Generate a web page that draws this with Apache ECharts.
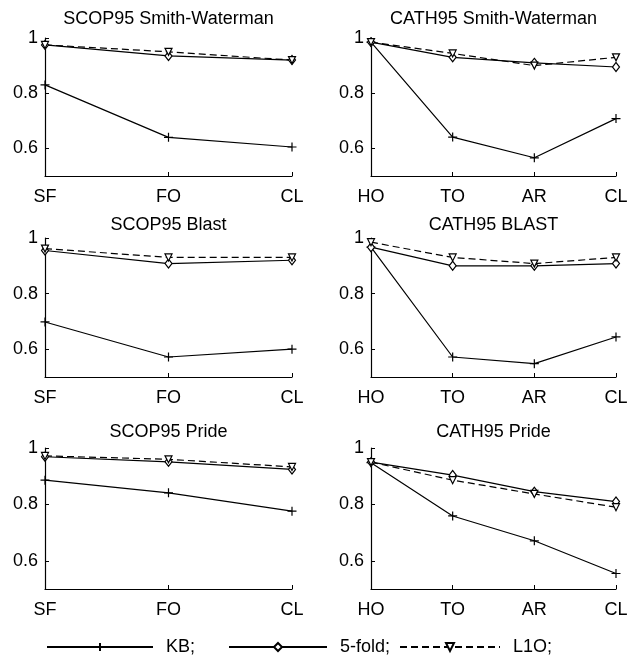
<!DOCTYPE html>
<html>
<head>
<meta charset="utf-8">
<script src="https://cdn.jsdelivr.net/npm/echarts@6/dist/echarts.min.js"></script>
<style>
  html, body { margin: 0; padding: 0; background: #fff; }
  #chart { width: 632px; height: 658px; }
</style>
</head>
<body>
<div id="chart"></div>
<script>
// categorias dos eixos
const scopCats = ['SF', 'FO', 'CL'];
const cathCats = ['HO', 'TO', 'AR', 'CL'];
const yTicks = [0.6, 0.8, 1];

const titles = ['SCOP95 Smith-Waterman', 'CATH95 Smith-Waterman', 'SCOP95 Blast', 'CATH95 BLAST', 'SCOP95 Pride', 'CATH95 Pride'];

// valores
const scopSwKB   = [0.83, 0.64, 0.605];
const scopSwFold = [0.975, 0.935, 0.92];
const scopSwL1O  = [0.975, 0.95, 0.92];

const cathSwKB   = [0.985, 0.641, 0.566, 0.708];
const cathSwFold = [0.985, 0.93, 0.91, 0.895];
const cathSwL1O  = [0.985, 0.944, 0.9, 0.93];

const scopBlKB   = [0.698, 0.572, 0.6];
const scopBlFold = [0.955, 0.908, 0.92];
const scopBlL1O  = [0.962, 0.93, 0.93];

const cathBlKB   = [0.967, 0.572, 0.548, 0.644];
const cathBlFold = [0.967, 0.9, 0.9, 0.908];
const cathBlL1O  = [0.985, 0.93, 0.908, 0.93];

const scopPrKB   = [0.886, 0.841, 0.776];
const scopPrFold = [0.969, 0.951, 0.924];
const scopPrL1O  = [0.972, 0.96, 0.933];

const cathPrKB   = [0.948, 0.759, 0.671, 0.555];
const cathPrFold = [0.95, 0.904, 0.845, 0.81];
const cathPrL1O  = [0.95, 0.886, 0.837, 0.79];

const panels = [
  { cats: scopCats, kb: scopSwKB, fold: scopSwFold, l1o: scopSwL1O },
  { cats: cathCats, kb: cathSwKB, fold: cathSwFold, l1o: cathSwL1O },
  { cats: scopCats, kb: scopBlKB, fold: scopBlFold, l1o: scopBlL1O },
  { cats: cathCats, kb: cathBlKB, fold: cathBlFold, l1o: cathBlL1O },
  { cats: scopCats, kb: scopPrKB, fold: scopPrFold, l1o: scopPrL1O },
  { cats: cathCats, kb: cathPrKB, fold: cathPrFold, l1o: cathPrL1O }
];

// layout
const boxes = [
  { left: 45,  top: 38,  width: 247, height: 138 },
  { left: 371, top: 38,  width: 245, height: 138 },
  { left: 45,  top: 238, width: 247, height: 139 },
  { left: 371, top: 238, width: 245, height: 139 },
  { left: 45,  top: 448, width: 247, height: 141 },
  { left: 371, top: 448, width: 245, height: 141 }
];
const titleY = [20, 20, 226, 226, 433, 433];

const FONT = "'Liberation Sans', Arial, Helvetica, sans-serif";
const plus = 'path://M0,5L10,5M5,0L5,10';
const black = '#000';

const grid = [], xAxis = [], yAxis = [], series = [], title = [];

panels.forEach((p, i) => {
  const b = boxes[i];
  grid.push({ left: b.left, top: b.top, width: b.width, height: b.height, containLabel: false });
  title.push({
    text: titles[i],
    left: b.left + b.width / 2,
    top: titleY[i] - 10,
    textAlign: 'center',
    padding: 0,
    textStyle: { fontFamily: FONT, fontSize: 18, fontWeight: 'normal', color: black }
  });
  xAxis.push({
    type: 'category', gridIndex: i, data: p.cats, boundaryGap: false,
    axisLine: { onZero: false, lineStyle: { color: black, width: 1.2 } },
    axisTick: { inside: true, length: 4, lineStyle: { color: black } },
    axisLabel: { fontFamily: FONT, fontSize: 18, color: black, margin: 12 },
    splitLine: { show: false }
  });
  yAxis.push({
    type: 'value', gridIndex: i, min: 0.5, max: 1,
    axisLine: { show: true, onZero: false, lineStyle: { color: black, width: 1.2 } },
    axisTick: { show: true, inside: true, length: 4, customValues: yTicks, lineStyle: { color: black } },
    axisLabel: {
      fontFamily: FONT, fontSize: 18, color: black, margin: 7,
      customValues: yTicks,
      formatter: v => (v === 1 ? '1' : v.toFixed(1))
    },
    splitLine: { show: false }
  });
  series.push({
    name: 'KB;', type: 'line', xAxisIndex: i, yAxisIndex: i, data: p.kb,
    symbol: plus, symbolSize: 9,
    lineStyle: { color: black, width: 1.2 },
    itemStyle: { color: black, borderColor: black, borderWidth: 1.2 }
  });
  series.push({
    name: '5-fold;', type: 'line', xAxisIndex: i, yAxisIndex: i, data: p.fold,
    symbol: 'diamond', symbolSize: [7, 9],
    lineStyle: { color: black, width: 1.2 },
    itemStyle: { color: '#fff', borderColor: black, borderWidth: 1.2 }
  });
  series.push({
    name: 'L1O;', type: 'line', xAxisIndex: i, yAxisIndex: i, data: p.l1o,
    symbol: 'triangle', symbolRotate: 180, symbolSize: 7,
    lineStyle: { color: black, width: 1.2, type: [7, 4] },
    itemStyle: { color: '#fff', borderColor: black, borderWidth: 1.2 }
  });
});

const legendBase = {
  top: 638, padding: 0, itemHeight: 10,
  textStyle: { fontFamily: FONT, fontSize: 18, color: black, padding: [0, 0, 0, 8] }
};
const legend = [
  Object.assign({}, legendBase, { left: 46,  itemWidth: 106, data: ['KB;'] }),
  Object.assign({}, legendBase, { left: 228, itemWidth: 98,  data: ['5-fold;'] }),
  Object.assign({}, legendBase, { left: 399, itemWidth: 100, data: ['L1O;'] })
];

const chart = echarts.init(document.getElementById('chart'), null, { renderer: 'canvas' });
chart.setOption({
  backgroundColor: '#fff',
  animation: false,
  title, grid, xAxis, yAxis, series, legend
});
</script>
</body>
</html>
